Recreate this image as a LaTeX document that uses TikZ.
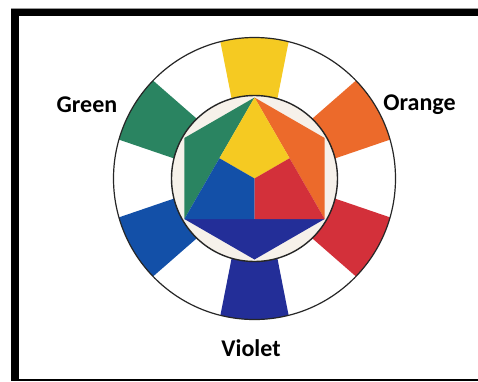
\documentclass[tikz,border=0pt]{standalone}
\usepackage{fontspec}
\setmainfont{Carlito}
\usepackage{tikz}
\usetikzlibrary{calc}
\usepackage{xcolor}
\definecolor{wyellow}{HTML}{F5CA22}
\definecolor{worange}{HTML}{EC6A2B}
\definecolor{wred}{HTML}{D3303A}
\definecolor{wviolet}{HTML}{232E98}
\definecolor{wblue}{HTML}{1350A8}
\definecolor{wgreen}{HTML}{2A8461}
\definecolor{wcream}{HTML}{F6F1EA}
\begin{document}
\begin{tikzpicture}[x=1pt, y=1pt, every node/.style={font=\fontsize{24}{28}\selectfont\bfseries}]
\tikzstyle{cname}=[inner sep=0pt, text=black]
\tikzstyle{ring}=[draw=black!85, line width=1.2pt]
\useasboundingbox (-254.5,-202.5) rectangle (223.5,178.5);
% frame
\fill[black!40] (-243.5,-202.5) rectangle (230,170.5);
\fill[black] (-243.5,-202.5) rectangle (230,169.5);
\fill[white] (-235.5,-200) rectangle (230,162.5);
% outer ring with the colour sectors
\fill[white] (0,0) circle (141);
\fill[wyellow] (74:83) -- (76:141) arc[start angle=76, end angle=104, radius=141] -- (106:83) -- cycle;
\fill[worange] (14:83) -- (16:141) arc[start angle=16, end angle=44, radius=141] -- (46:83) -- cycle;
\fill[wred] (-46:83) -- (-44:141) arc[start angle=-44, end angle=-16, radius=141] -- (-14:83) -- cycle;
\fill[wviolet] (-106:83) -- (-104:141) arc[start angle=-104, end angle=-76, radius=141] -- (-74:83) -- cycle;
\fill[wblue] (194:83) -- (196:141) arc[start angle=196, end angle=224, radius=141] -- (226:83) -- cycle;
\fill[wgreen] (134:83) -- (136:141) arc[start angle=136, end angle=164, radius=141] -- (166:83) -- cycle;
\draw[ring] (0,0) circle (141);
% inner disc and hexagon
\fill[wcream] (0,0) circle (83);
\coordinate (top) at (90:81);
\coordinate (ul) at (150:81);
\coordinate (bl) at (210:81);
\coordinate (bot) at (270:81);
\coordinate (br) at (330:81);
\coordinate (ur) at (30:81);
\coordinate (mid) at (0,0);
\coordinate (ml) at ($(top)!0.5!(bl)$);
\coordinate (mr) at ($(top)!0.5!(br)$);
\coordinate (mb) at ($(bl)!0.5!(br)$);
\fill[wgreen] (top) -- (ul) -- (bl) -- cycle;
\fill[worange] (top) -- (ur) -- (br) -- cycle;
\fill[wviolet] (bl) -- (bot) -- (br) -- cycle;
\fill[wyellow] (top) -- (ml) -- (mid) -- (mr) -- cycle;
\fill[wblue] (ml) -- (bl) -- (mb) -- (mid) -- cycle;
\fill[wred] (mr) -- (mid) -- (mb) -- (br) -- cycle;
\draw[ring, line width=1.4pt] (0,0) circle (83);
% names
\node[cname] (green) at (-167.5,73.5) {Green};
\node[cname] (orange) at (165,73.5) {Orange};
\node[cname] (violet) at (-3.5,-169.5) {Violet};
\end{tikzpicture}
\end{document}
